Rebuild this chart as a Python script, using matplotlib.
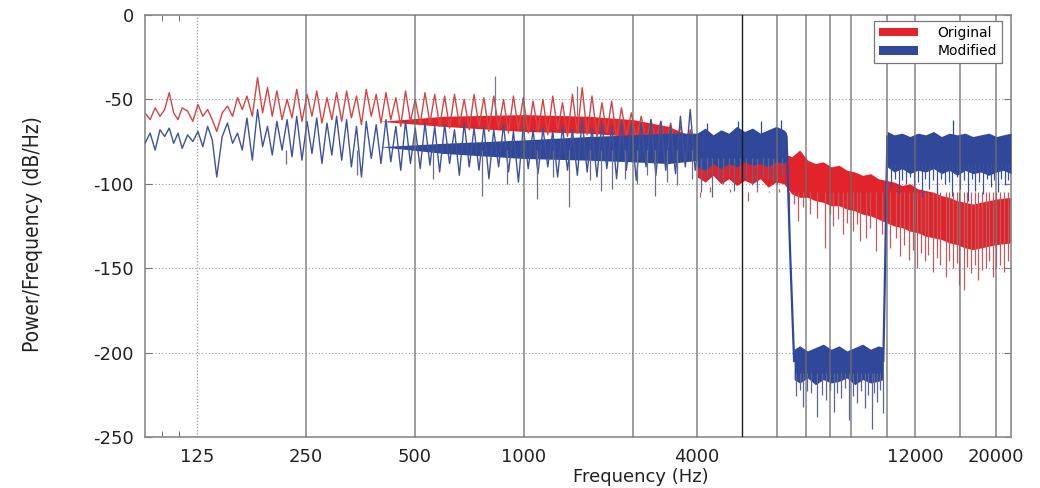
import matplotlib.pyplot as plt
from matplotlib.patches import Patch

# ---- low band (90 - 3000 Hz): jagged spectrum, ~1 point every 5 px
low_freq = [90, 93, 96, 99, 102, 105, 108, 111, 114, 118,
            122, 126, 130, 134, 138, 142, 147, 152, 157, 162,
            167, 172, 178, 184, 190, 196, 202, 208, 215, 222,
            229, 236, 244, 252, 260, 268, 277, 286, 295, 304,
            314, 324, 334, 345, 356, 367, 379, 391, 403, 416,
            429, 443, 457, 471, 486, 501, 517, 533, 550, 567,
            585, 604, 623, 643, 663, 684, 706, 728, 751, 775,
            800, 825, 851, 878, 906, 935, 965, 995, 1027, 1059,
            1093, 1128, 1163, 1200, 1238, 1277, 1318, 1360, 1403, 1447,
            1493, 1540, 1589, 1640, 1692, 1745, 1800, 1857, 1916, 1977,
            2040, 2105, 2171, 2240, 2311, 2384, 2460, 2538, 2618, 2700,
            2786, 2874, 2966, 3060]
orig_low = [-58, -62, -55, -60, -56, -46, -58, -62, -55, -57,
            -63, -53, -60, -56, -62, -69, -58, -54, -60, -49,
            -56, -48, -60, -37, -58, -43, -60, -45, -62, -50,
            -61, -44, -63, -47, -60, -45, -64, -49, -62, -46,
            -63, -45, -61, -48, -65, -44, -60, -47, -64, -46,
            -62, -49, -66, -45, -63, -50, -65, -46, -64, -47,
            -66, -48, -67, -47, -65, -50, -68, -47, -66, -49,
            -69, -48, -67, -50, -70, -48, -68, -49, -70, -51,
            -69, -50, -71, -48, -68, -52, -72, -47, -70, -43,
            -71, -48, -72, -52, -70, -51, -73, -55, -72, -58,
            -74, -60, -75, -62, -76, -63, -77, -64, -78, -66,
            -80, -68, -82, -80]
mod_low = [-76, -70, -80, -68, -72, -67, -76, -70, -79, -71,
           -75, -69, -78, -66, -74, -96, -72, -64, -76, -70,
           -80, -61, -86, -56, -78, -66, -83, -63, -80, -62,
           -84, -60, -86, -63, -82, -61, -88, -64, -83, -60,
           -86, -62, -90, -66, -96, -63, -85, -65, -88, -62,
           -87, -66, -92, -63, -88, -67, -91, -64, -89, -66,
           -93, -65, -88, -68, -95, -64, -90, -67, -92, -66,
           -97, -68, -90, -65, -93, -69, -99, -66, -91, -68,
           -94, -67, -90, -69, -96, -66, -92, -68, -95, -62,
           -93, -67, -96, -64, -91, -66, -97, -63, -92, -65,
           -98, -64, -90, -62, -95, -63, -92, -66, -94, -60,
           -90, -56, -92, -70]

# dense body of the low band, thickening from ~400 Hz
body_freq = [400, 600, 1000, 1500, 2000, 2500, 3060]
orig_body_top = [-63, -60, -59, -60, -62, -66, -74]
orig_body_bot = [-63, -66, -69, -70, -72, -74, -80]
mod_body_top = [-78, -76, -74, -72, -71, -70, -70]
mod_body_bot = [-78, -82, -85, -86, -87, -88, -86]

# thin grey spikes in the low band
low_spike_freq = [220, 345, 560, 766, 900, 1087, 1200, 1330, 1520, 1630, 1750,
                  1900, 2050, 2180, 2300, 2480, 2650, 2900]
low_spike_db = [-88, -95, -97, -107, -100, -109, -96, -114, -98, -104, -103,
                -97, -100, -95, -107, -99, -101, -97]
low_up_freq = [832, 1400]
low_up_db = [-36, -42]

# ---- high band (3000 - 22050 Hz): dense noise, drawn as upper/lower envelope
hf_freq = [3006, 3161, 3323, 3493, 3672, 3861, 4059, 4267, 4486, 4716,
           4958, 5212, 5479, 5760, 6056, 6366, 6693, 7036, 7397, 7776,
           8175, 8594, 9035, 9498, 9985, 10497, 11036, 11602, 12197, 12822,
           13480, 14171, 14898, 15662, 16465, 17310, 18198, 19131, 20112, 22050]
orig_hf_top = [-78, -80, -77, -82, -79, -84, -80, -83, -78, -84, -81, -82,
               -84, -80, -86, -88, -87, -90, -89, -92, -93, -95, -94, -97, -98,
               -99, -101, -100, -103, -104, -105, -107, -108, -110, -111, -112,
               -111, -110, -109, -108]
orig_hf_bot = [-96, -99, -95, -100, -97, -101, -98, -100, -97, -102, -99, -100,
               -106, -108, -108, -110, -111, -113, -113, -115, -116, -118, -119, -121, -123,
               -125, -126, -128, -129, -131, -132, -133, -135, -136, -138, -139,
               -138, -137, -136, -135]
orig_spike_freq = [3060, 3250, 3450, 3700, 4150, 4400, 4750, 5050, 5380, 5550,
                   5700, 5900, 6170, 6450, 6780, 7000, 7125, 7350, 7585, 7800,
                   8070, 8300, 8460, 8760, 9000, 9350, 9700, 10240, 10600, 10900,
                   11200, 11530, 11850, 12120, 12450, 12740, 13050, 13400, 13750, 14080,
                   14560, 14900, 15280, 15600, 15860, 16370, 16700, 17090, 17500, 17870,
                   18300, 18760, 19200, 19640, 20100, 20600, 21100, 21600]
orig_spike_db = [-108, -102, -105, -103, -110, -101, -104, -103, -118, -112,
                 -122, -114, -118, -120, -138, -118, -125, -121, -130, -123,
                 -128, -124, -134, -132, -126, -140, -130, -138, -132, -143,
                 -136, -145, -139, -150, -141, -146, -142, -152, -144, -148,
                 -155, -146, -150, -147, -160, -163, -149, -153, -148, -157,
                 -151, -150, -146, -155, -149, -148, -152, -146]

mod_p1_freq = [3006, 3161, 3323, 3493, 3672, 3861, 4059, 4267, 4486, 4716, 4958, 5212, 5300]
mod_p1_top = [-70, -67, -71, -68, -70, -66, -69, -67, -70, -68, -66, -68, -70]
mod_p1_bot = [-90, -92, -88, -91, -88, -90, -87, -89, -88, -90, -87, -88, -86]
mod_drop_freq = [5300, 5420, 5560]
mod_drop_db = [-72, -140, -205]
mod_stop_freq = [5560, 5760, 6056, 6366, 6693, 7036, 7397, 7776, 8175, 8594, 9035, 9498, 9800]
mod_stop_top = [-198, -196, -199, -197, -195, -198, -196, -199, -197, -195, -198, -196, -197]
mod_stop_bot = [-216, -218, -215, -219, -216, -218, -217, -215, -219, -216, -218, -217, -216]
mod_rise_freq = [9800, 9930, 10050]
mod_rise_db = [-205, -140, -72]
mod_p2_freq = [10050, 10497, 11036, 11602, 12197, 12822, 13480, 14171, 14898,
               15662, 16465, 17310, 18198, 19131, 20112, 21000, 22050]
mod_p2_top = [-69, -71, -70, -72, -70, -71, -69, -72, -70, -71, -70, -72, -71, -70, -72, -71, -70]
mod_p2_bot = [-90, -93, -91, -94, -92, -93, -91, -94, -92, -95, -92, -94, -93, -95, -93, -92, -94]

mod_p1_spike_freq = [3080, 3200, 3300, 3430, 3550, 3680, 3800, 3950, 4100, 4250,
                     4400, 4550, 4700, 4850, 5000, 5150]
mod_p1_spike_db = [-105, -96, -108, -98, -100, -95, -104, -97, -98, -101,
                   -102, -96, -97, -99, -100, -95]
mod_stop_spike_freq = [5620, 5760, 5900, 6050, 6200, 6450, 6620, 6800, 7000, 7150,
                       7300, 7500, 7700, 7900, 8100, 8300, 8500, 8700, 8900, 9100,
                       9250, 9400, 9600, 9750]
mod_stop_spike_db = [-226, -222, -232, -223, -224, -238, -225, -228, -222, -235,
                     -224, -227, -221, -240, -226, -230, -223, -233, -225, -245,
                     -224, -229, -222, -236]
mod_p2_spike_freq = [10300, 10550, 10800, 11050, 11300, 11600, 11900, 12200, 12500, 12800,
                     13100, 13450, 13800, 14150, 14500, 14850, 15200, 15600, 16000, 16400,
                     16800, 17200, 17600, 18050, 18500, 18950, 19400, 19850, 20300, 20750,
                     21200, 21700]
mod_p2_spike_db = [-102, -97, -106, -98, -100, -96, -104, -99, -108, -97,
                   -103, -98, -106, -97, -100, -99, -107, -96, -103, -98,
                   -110, -97, -104, -99, -106, -97, -102, -98, -105, -97,
                   -101, -98]
mod_up_freq = [3200, 3900, 4500, 5100, 15300]
mod_up_db = [-64, -63, -63, -62, -62]

# axis decoration
tick_pos = [125, 250, 500, 1000, 3000, 12000, 20000]
tick_labels = ['125', '250', '500', '1000', '4000', '12000', '20000']
vlines_solid = [250, 500, 1000, 2000, 3000, 5000, 6000, 7000, 8000, 10000, 12000, 16000, 20000]
y_ticks = [0, -50, -100, -150, -200, -250]

RED = '#e3232b'
BLUE = '#30479a'

fig, ax = plt.subplots(figsize=(10.4, 4.88), dpi=100)
fig.subplots_adjust(left=0.1394, right=0.9721, bottom=0.1045, top=0.9693)
ax.set_xscale('log')

for y in [-50, -100, -150, -200]:
    ax.axhline(y, color='#9a9a9a', lw=0.8, ls=(0, (1, 2)), zorder=0)
ax.axvline(125, color='#9a9a9a', lw=0.9, ls=(0, (1, 1.5)), zorder=0)

# Original
ax.fill_between(body_freq, orig_body_bot, orig_body_top, color=RED, lw=0, zorder=2)
ax.plot(low_freq, orig_low, color='#d24545', lw=1.0, zorder=2)
ax.fill_between(hf_freq, orig_hf_bot, orig_hf_top, color=RED, lw=0, zorder=2)
ax.vlines(orig_spike_freq, -105, orig_spike_db, color='#c05a5e', lw=0.9, zorder=2)

# Modified
ax.fill_between(body_freq, mod_body_bot, mod_body_top, color=BLUE, lw=0, zorder=3)
ax.plot(low_freq, mod_low, color='#3f5296', lw=1.0, zorder=3)
ax.vlines(low_spike_freq, -80, low_spike_db, color='#6c6f8a', lw=0.9, zorder=3)
ax.vlines(low_up_freq, -60, low_up_db, color='#7a7a8a', lw=0.9, zorder=3)
ax.fill_between(mod_p1_freq, mod_p1_bot, mod_p1_top, color=BLUE, lw=0, zorder=3)
ax.plot(mod_drop_freq, mod_drop_db, color=BLUE, lw=1.6, zorder=3)
ax.fill_between(mod_stop_freq, mod_stop_bot, mod_stop_top, color=BLUE, lw=0, zorder=3)
ax.plot(mod_rise_freq, mod_rise_db, color=BLUE, lw=1.6, zorder=3)
ax.fill_between(mod_p2_freq, mod_p2_bot, mod_p2_top, color=BLUE, lw=0, zorder=3)
ax.vlines(mod_p1_spike_freq, -85, mod_p1_spike_db, color='#5d6690', lw=0.9, zorder=3)
ax.vlines(mod_stop_spike_freq, -212, mod_stop_spike_db, color='#5d6690', lw=0.9, zorder=3)
ax.vlines(mod_p2_spike_freq, -88, mod_p2_spike_db, color='#3a4f9a', lw=0.9, zorder=3)
ax.vlines(mod_up_freq, -72, mod_up_db, color=BLUE, lw=0.9, zorder=3)

for f in vlines_solid:
    ax.axvline(f, color='#6e6e6e', lw=1.1, alpha=0.85, zorder=4)
ax.axvline(4000, color='#1a1a1a', lw=1.0, zorder=4)

ax.set_xlim(90, 22050)
ax.set_ylim(-250, 0)
ax.set_xticks(tick_pos)
ax.set_xticklabels(tick_labels)
ax.set_xticks([100, 112], minor=True)
ax.set_xticklabels([], minor=True)
ax.set_yticks(y_ticks)
ax.set_yticklabels([str(v) for v in y_ticks])
ax.tick_params(axis='x', which='major', length=0, pad=8, labelsize=13, labelcolor='#222222')
ax.tick_params(axis='x', which='minor', direction='in', length=4, top=True, color='#555555')
ax.tick_params(axis='y', direction='in', length=5, right=True, pad=8,
               labelsize=13, labelcolor='#222222', color='#777777')
for s in ax.spines.values():
    s.set_color('#8a8a8a')
    s.set_linewidth(1.2)

ax.set_xlabel('Frequency (Hz)', fontsize=13, color='#222222')
ax.xaxis.set_label_coords(0.572, -0.074)
ax.set_ylabel('Power/Frequency (dB/Hz)', fontsize=15, color='#222222',
              family='DejaVu Sans', fontstretch='condensed')
ax.yaxis.set_label_coords(-0.118, 0.48)

handles = [Patch(facecolor=RED, edgecolor='none'), Patch(facecolor=BLUE, edgecolor='none')]
leg = ax.legend(handles, ['Original', 'Modified'], loc='upper right',
                bbox_to_anchor=(0.9896, 0.9858), borderaxespad=0, fancybox=False,
                edgecolor='#777777', framealpha=1, fontsize=10,
                handlelength=2.8, handleheight=0.6, labelspacing=0.3,
                borderpad=0.35, handletextpad=1.4)
leg.get_frame().set_linewidth(0.9)

fig.savefig('out.png', dpi=100)
